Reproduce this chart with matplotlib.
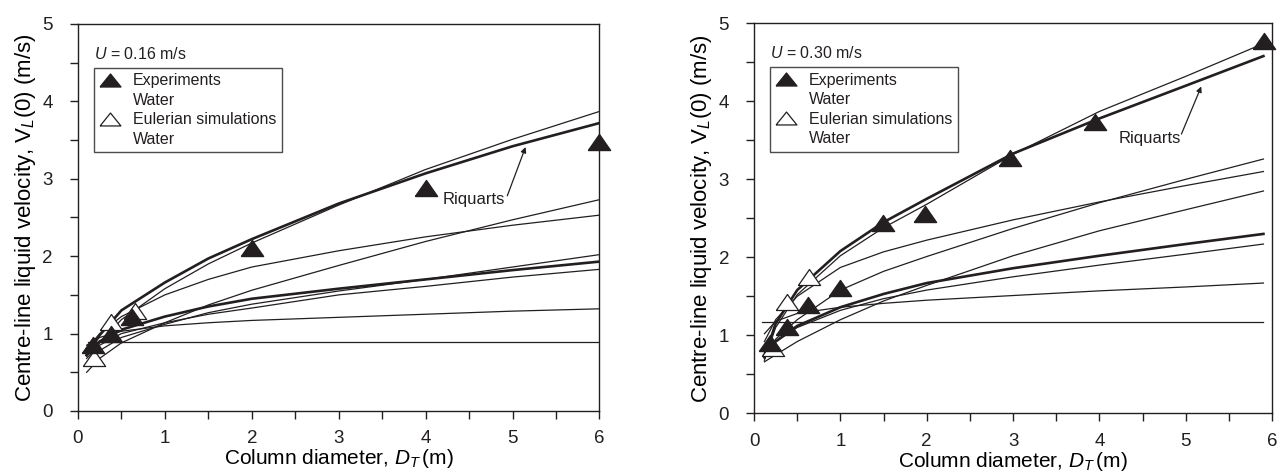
import matplotlib
matplotlib.use("Agg")
import matplotlib.pyplot as plt
from matplotlib.lines import Line2D

plt.rcParams['font.family'] = ['Liberation Sans', 'DejaVu Sans']
plt.rcParams['mathtext.fontset'] = 'custom'
plt.rcParams['mathtext.rm'] = 'Liberation Sans'
plt.rcParams['mathtext.it'] = 'Liberation Sans:italic'
plt.rcParams['text.color'] = '#231f20'

dt_left = [0.1, 0.25, 0.5, 1, 1.5, 2, 3, 4, 5, 6]
dt_right = [0.12, 0.25, 0.5, 1, 1.5, 2, 3, 4, 5, 5.9]

# U = 0.16 m/s
riq_016 = [0.72, 0.98, 1.30, 1.66, 1.97, 2.22, 2.68, 3.07, 3.42, 3.72]
a_016 = [0.62, 0.88, 1.18, 1.58, 1.90, 2.17, 2.66, 3.12, 3.51, 3.87]
c_016 = [0.50, 0.68, 0.88, 1.14, 1.37, 1.56, 1.88, 2.19, 2.47, 2.73]
d_016 = [0.80, 1.00, 1.22, 1.50, 1.70, 1.86, 2.07, 2.25, 2.40, 2.53]
e_016 = [0.60, 0.78, 0.95, 1.12, 1.27, 1.38, 1.55, 1.70, 1.86, 2.02]
f_016 = [0.72, 0.90, 1.05, 1.22, 1.35, 1.45, 1.58, 1.70, 1.82, 1.93]
g_016 = [0.68, 0.85, 1.00, 1.14, 1.25, 1.33, 1.50, 1.61, 1.73, 1.83]
h_016 = [0.85, 0.95, 1.03, 1.10, 1.14, 1.17, 1.21, 1.25, 1.29, 1.32]
flat_016 = 0.895
exp_x_016 = [0.17, 0.38, 0.62, 2.0, 4.0, 6.0]
exp_y_016 = [0.85, 1.00, 1.22, 2.10, 2.88, 3.48]
sim_x_016 = [0.18, 0.38, 0.66]
sim_y_016 = [0.69, 1.15, 1.29]

# U = 0.30 m/s
riq_030 = [0.72, 1.15, 1.58, 2.08, 2.45, 2.75, 3.33, 3.78, 4.20, 4.58]
a_030 = [0.68, 1.10, 1.52, 2.02, 2.38, 2.68, 3.32, 3.87, 4.32, 4.74]
c_030 = [0.70, 0.95, 1.20, 1.58, 1.82, 2.01, 2.37, 2.70, 3.00, 3.26]
d_030 = [0.92, 1.20, 1.50, 1.87, 2.07, 2.22, 2.48, 2.71, 2.92, 3.10]
e_030 = [0.66, 0.75, 0.92, 1.20, 1.44, 1.64, 2.02, 2.34, 2.61, 2.85]
f_030 = [0.75, 0.92, 1.12, 1.36, 1.53, 1.67, 1.86, 2.02, 2.17, 2.30]
g_030 = [0.78, 0.92, 1.10, 1.32, 1.47, 1.58, 1.75, 1.90, 2.04, 2.17]
h_030 = [1.02, 1.18, 1.28, 1.36, 1.41, 1.45, 1.51, 1.57, 1.62, 1.67]
flat_030 = 1.17
exp_x_030 = [0.18, 0.38, 0.63, 0.99, 1.49, 1.98, 2.96, 3.95, 5.91]
exp_y_030 = [0.90, 1.11, 1.39, 1.61, 2.44, 2.56, 3.27, 3.74, 4.77]
sim_x_030 = [0.22, 0.38, 0.64]
sim_y_030 = [0.84, 1.43, 1.75]

# squat triangles, closed so the open ones get a full outline
tri = [(-1, -0.72), (1, -0.72), (0, 0.72), (-1, -0.72)]
tri_leg = [(-1, -0.62), (1, -0.62), (0, 0.62), (-1, -0.62)]
ink = '#231f20'

fig = plt.figure(figsize=(12.8, 4.73), dpi=100)
ax1 = fig.add_axes([0.0609, 0.1311, 0.4074, 0.8182])
ax2 = fig.add_axes([0.5891, 0.1262, 0.4047, 0.8245])

panels = [
    (ax1, dt_left, [riq_016, f_016], [a_016, c_016, d_016, e_016, g_016, h_016],
     flat_016, [0.12, 6], exp_x_016, exp_y_016, sim_x_016, sim_y_016, '0.16',
     (4.55, 2.73), (4.94, 2.78), (5.15, 3.41)),
    (ax2, dt_right, [riq_030, f_030], [a_030, c_030, d_030, e_030, g_030, h_030],
     flat_030, [0.09, 5.9], exp_x_030, exp_y_030, sim_x_030, sim_y_030, '0.30',
     (4.58, 3.52), (4.95, 3.58), (5.18, 4.19)),
]

for (ax, dt, thick, thin, flat, flat_x, ex, ey, sx, sy, u,
     txt_pos, arr_from, arr_to) in panels:
    for v in thin:
        ax.plot(dt, v, color=ink, lw=0.9)
    for v in thick:
        ax.plot(dt, v, color=ink, lw=1.9)
    ax.plot(flat_x, [flat, flat], color=ink, lw=0.9)

    ax.plot(sx, sy, linestyle='none', marker=tri, ms=16, mfc='white',
            mec=ink, mew=0.9, clip_on=False, zorder=4)
    ax.plot(ex, ey, linestyle='none', marker=tri, ms=16, mfc=ink,
            mec=ink, clip_on=False, zorder=5)

    ax.text(0.185, 4.55, '$U$ = ' + u + ' m/s', fontsize=11.5, va='baseline')

    ax.text(txt_pos[0], txt_pos[1], 'Riquarts', fontsize=12,
            ha='center', va='center')
    ax.annotate('', xy=arr_to, xytext=arr_from,
                arrowprops=dict(arrowstyle='-|>', color=ink, lw=0.9,
                                mutation_scale=8, shrinkA=0, shrinkB=0))

    handles = [
        Line2D([], [], linestyle='none', marker=tri_leg, ms=15, mfc=ink, mec=ink),
        Line2D([], [], linestyle='none'),
        Line2D([], [], linestyle='none', marker=tri_leg, ms=15, mfc='white',
               mec=ink, mew=0.9),
        Line2D([], [], linestyle='none'),
    ]
    labels = ['Experiments', 'Water', 'Eulerian simulations', 'Water']
    leg = ax.legend(handles, labels, loc='upper left',
                    bbox_to_anchor=(0.03, 0.887), borderaxespad=0,
                    fontsize=11.5, frameon=True, fancybox=False,
                    edgecolor=ink, borderpad=0.35, handlelength=1.4,
                    handletextpad=0.7, labelspacing=0.28)
    leg.get_frame().set_linewidth(1.0)

    ax.set_xlim(0, 6)
    ax.set_ylim(0, 5)
    ax.set_xticks([0, 1, 2, 3, 4, 5, 6])
    ax.set_xticks([0.5, 1.5, 2.5, 3.5, 4.5, 5.5], minor=True)
    ax.set_yticks([0, 1, 2, 3, 4, 5])
    ax.set_yticks([0.5, 1.5, 2.5, 3.5, 4.5], minor=True)
    ax.tick_params(axis='both', which='both', direction='out', length=6,
                   width=1.0, color=ink, labelsize=13.5, labelcolor=ink)
    ax.tick_params(axis='y', which='both', pad=12)
    ax.tick_params(axis='x', which='both', pad=8)
    for s in ax.spines.values():
        s.set_linewidth(1.0)
        s.set_color(ink)

    ax.set_xlabel('Column diameter, $D_T\\,$(m)', fontsize=15, labelpad=0)
    ax.set_ylabel('Centre-line liquid velocity, $\\mathrm{V}_L$(0) (m/s)',
                  fontsize=16, labelpad=3)

fig.savefig('out.png', dpi=100)
